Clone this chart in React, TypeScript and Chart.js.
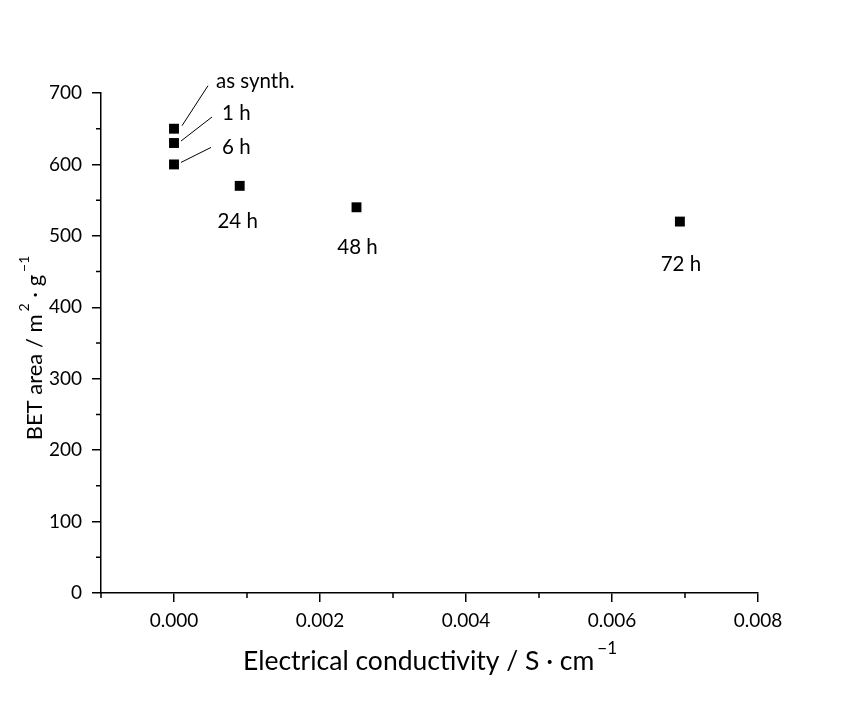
import React, { useEffect, useRef } from "react";
import { Chart, registerables } from "chart.js";

Chart.register(...registerables);

// Sample conductivity (S/cm) and BET surface area (m²/g) after each treatment time
const sampleLabels = ["as synth.", "1 h", "6 h", "24 h", "48 h", "72 h"];
const conductivity = [0.0, 0.0, 0.0, 0.0009, 0.0025, 0.00693];
const betArea = [650, 630, 600, 570, 540, 520];

const xTicks = [0, 0.002, 0.004, 0.006, 0.008];
const xMinorTicks = [-0.001, 0.001, 0.003, 0.005, 0.007];
const yTicks = [0, 100, 200, 300, 400, 500, 600, 700];
const yMinorTicks = [50, 150, 250, 350, 450, 550, 650];

const FONT = "Lato, 'Open Sans', sans-serif";

// Placement of each sample label relative to its marker: text anchor (dx, dy),
// alignment, and an optional leader line (from -> to), all in pixels.
const labelLayout = [
  { dx: 42, dy: -47, align: "left", line: [8, -3, 34, -43] },
  { dx: 48, dy: -30, align: "left", line: [7, -2, 38, -26] },
  { dx: 48, dy: -17, align: "left", line: [7, -2, 37, -17] },
  { dx: -2, dy: 36, align: "center", line: null },
  { dx: 1, dy: 40, align: "center", line: null },
  { dx: 1, dy: 43, align: "center", line: null },
];

const decorPlugin = {
  id: "decor",
  afterDraw(chart: any) {
    const { ctx, scales } = chart;
    const xs = scales.x;
    const ys = scales.y;
    const area = chart.chartArea;
    ctx.save();
    ctx.strokeStyle = "#000";
    ctx.fillStyle = "#000";

    // minor tick marks (outward)
    ctx.lineWidth = 1.5;
    ctx.beginPath();
    xMinorTicks.forEach((v) => {
      const px = xs.getPixelForValue(v);
      ctx.moveTo(px, area.bottom);
      ctx.lineTo(px, area.bottom + 5);
    });
    yMinorTicks.forEach((v) => {
      const py = ys.getPixelForValue(v);
      ctx.moveTo(area.left, py);
      ctx.lineTo(area.left - 5, py);
    });
    ctx.stroke();

    // sample labels with leader lines
    ctx.font = `20.5px ${FONT}`;
    ctx.textBaseline = "middle";
    ctx.lineWidth = 1;
    sampleLabels.forEach((txt, i) => {
      const px = xs.getPixelForValue(conductivity[i]);
      const py = ys.getPixelForValue(betArea[i]);
      const l = labelLayout[i];
      if (l.line) {
        ctx.beginPath();
        ctx.moveTo(px + l.line[0], py + l.line[1]);
        ctx.lineTo(px + l.line[2], py + l.line[3]);
        ctx.stroke();
      }
      ctx.textAlign = l.align as CanvasTextAlign;
      ctx.fillText(txt, px + l.dx, py + l.dy);
    });

    // x-axis title with superscript
    const xMain = "Electrical conductivity / S \u00b7 cm";
    const xSup = "\u22121";
    const xMainFont = `26.5px ${FONT}`;
    const xSupFont = `17px ${FONT}`;
    ctx.textBaseline = "alphabetic";
    ctx.textAlign = "left";
    ctx.font = xMainFont;
    const wMain = ctx.measureText(xMain).width;
    ctx.font = xSupFont;
    const wSup = ctx.measureText(xSup).width;
    const cx = 430;
    const xStart = cx - (wMain + wSup + 3) / 2;
    const baseY = 670;
    ctx.font = xMainFont;
    ctx.fillText(xMain, xStart, baseY);
    ctx.font = xSupFont;
    ctx.fillText(xSup, xStart + wMain + 3, baseY - 16);

    // y-axis title (rotated) with superscripts
    const yMainFont = `22px ${FONT}`;
    const ySupFont = `14px ${FONT}`;
    const parts: [string, boolean][] = [
      ["BET area / m", false],
      ["2", true],
      [" \u00b7 g", false],
      ["\u22121", true],
    ];
    let total = 0;
    parts.forEach(([t, sup]) => {
      ctx.font = sup ? ySupFont : yMainFont;
      total += ctx.measureText(t).width + (sup ? 3 : 0);
    });
    const cy = 348;
    ctx.translate(42, cy);
    ctx.rotate(-Math.PI / 2);
    let off = -total / 2;
    parts.forEach(([t, sup]) => {
      ctx.font = sup ? ySupFont : yMainFont;
      if (sup) off += 3;
      ctx.fillText(t, off, sup ? -13 : 0);
      off += ctx.measureText(t).width;
    });
    ctx.restore();
  },
};

export default function App() {
  const ref = useRef<HTMLCanvasElement>(null);

  useEffect(() => {
    if (!ref.current) return;
    const points = conductivity.map((x, i) => ({ x, y: betArea[i] }));
    const chart = new Chart(ref.current, {
      type: "scatter",
      data: {
        datasets: [
          {
            data: points,
            pointStyle: "rect",
            pointRadius: 7,
            pointHoverRadius: 7,
            backgroundColor: "#000",
            borderColor: "#000",
            borderWidth: 0,
          },
        ],
      },
      options: {
        animation: false,
        responsive: true,
        maintainAspectRatio: false,
        layout: { padding: { top: 93, right: 91, left: 0, bottom: 0 } },
        plugins: { legend: { display: false }, tooltip: { enabled: false } },
        scales: {
          x: {
            type: "linear",
            min: -0.001,
            max: 0.008,
            afterBuildTicks: (s: any) => {
              s.ticks = xTicks.map((v) => ({ value: v }));
            },
            afterFit: (s: any) => {
              s.height = 113;
            },
            grid: {
              display: true,
              drawOnChartArea: false,
              drawTicks: true,
              tickLength: 9,
              color: "#000",
              lineWidth: 1.5,
            },
            border: { display: true, color: "#000", width: 1.5 },
            ticks: {
              color: "#000",
              padding: 7,
              maxRotation: 0,
              font: { family: FONT, size: 19 },
              callback: (v: any) => Number(v).toFixed(3),
            },
          },
          y: {
            type: "linear",
            min: 0,
            max: 700,
            afterBuildTicks: (s: any) => {
              s.ticks = yTicks.map((v) => ({ value: v }));
            },
            afterFit: (s: any) => {
              s.width = 101;
            },
            grid: {
              display: true,
              drawOnChartArea: false,
              drawTicks: true,
              tickLength: 9,
              color: "#000",
              lineWidth: 1.5,
            },
            border: { display: true, color: "#000", width: 1.5 },
            ticks: {
              color: "#000",
              padding: 10,
              font: { family: FONT, size: 19 },
              callback: (v: any) => String(v),
            },
          },
        },
      },
      plugins: [decorPlugin],
    });
    return () => chart.destroy();
  }, []);

  return (
    <div
      style={{
        position: "absolute",
        left: 0,
        top: 0,
        width: 849,
        height: 706,
        background: "#fff",
      }}
    >
      <canvas ref={ref} />
    </div>
  );
}
